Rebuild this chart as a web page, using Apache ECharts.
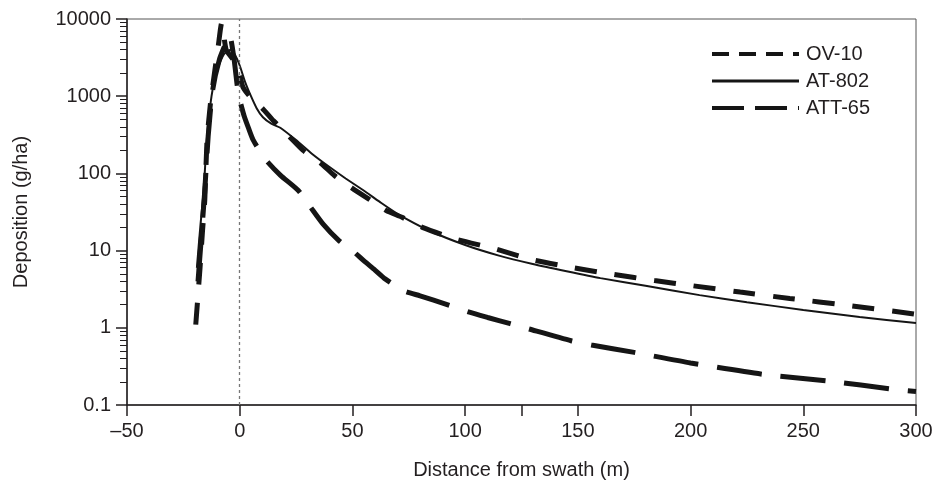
<!DOCTYPE html>
<html>
<head>
<meta charset="utf-8">
<script src="https://cdn.jsdelivr.net/npm/echarts@6/dist/echarts.min.js"></script>
<style>
  html, body { margin: 0; padding: 0; background: #fff; }
  #chart { width: 939px; height: 492px; }
</style>
</head>
<body>
<div id="chart"></div>
<script>
// Axis ticks and labels
const xTickValues = [-50, 0, 50, 100, 150, 200, 250, 300];
const xTickLabels = ['\u201350', '0', '50', '100', '150', '200', '250', '300'];
const xTickMarks = [-50, 0, 50, 100, 125, 150, 200, 250, 300];
const yTickValues = [0.1, 1, 10, 100, 1000, 10000];
const yTickLabels = ['0.1', '1', '10', '100', '1000', '10000'];
const seriesNames = ['OV-10', 'AT-802', 'ATT-65'];

// Deposition (g/ha) versus distance from swath (m)
const ov10Dist = [-19.5, -17.6, -16.5, -15.5, -14.5, -13, -11, -9.5, -8, -6, -3, 0, 1.5, 5, 10, 15, 22, 28, 36, 42, 50, 58, 65, 72, 81, 95, 113, 130, 148, 166, 184, 201, 222, 244, 270, 300];
const ov10Dep = [1.1, 6, 18, 45, 270, 800, 2200, 4500, 8900, 4000, 3000, 1900, 1300, 950, 700, 480, 300, 200, 135, 94, 64, 45, 33, 27, 20, 14.3, 10.6, 7.6, 6.0, 4.9, 4.1, 3.5, 2.9, 2.4, 1.95, 1.5];

const at802Dist = [-19, -17.5, -16, -14.5, -12.5, -10, -7, -4, -2, 0, 2.5, 5, 7.5, 10.3, 14, 18, 25, 32, 40, 47, 55, 62, 70, 84, 100, 115, 130, 145, 160, 180, 204, 225, 250, 275, 300];
const at802Dep = [6, 20, 60, 300, 1000, 2200, 3500, 4000, 3400, 2500, 1500, 1000, 700, 533, 440, 390, 270, 180, 120, 86, 60, 43, 30, 18.2, 11.8, 8.6, 6.7, 5.4, 4.4, 3.5, 2.65, 2.15, 1.7, 1.38, 1.15];

const att65Dist = [-18.5, -17, -15.5, -14, -12, -9, -6, -4.5, -2.5, -1, 0, 2, 4, 6, 11, 18, 26, 31, 37, 44, 50, 55, 60, 64.5, 73, 80, 92, 101, 110, 120, 128, 147, 156, 175, 200, 232, 261, 290, 300];
const att65Dep = [4, 15, 60, 300, 1200, 3000, 5000, 6200, 3000, 1300, 900, 550, 380, 270, 157, 95, 60, 38, 22, 13.5, 10, 7.4, 5.6, 4.3, 3.0, 2.6, 2.0, 1.62, 1.36, 1.13, 0.97, 0.68, 0.6, 0.48, 0.35, 0.25, 0.205, 0.16, 0.15];

// Minor ticks of the log axis (2..9 within each decade), in log10 units
const yMinorLogs = [];
for (let d = -1; d < 4; d++) {
  for (let m = 2; m <= 9; m++) yMinorLogs.push(d + Math.log10(m));
}

const ink = '#231f20';
const font = 'Liberation Sans, Arial, sans-serif';

function pairs(xs, ys) { return xs.map((x, i) => [x, ys[i]]); }

const chart = echarts.init(document.getElementById('chart'), null, { renderer: 'canvas' });

chart.setOption({
  animation: false,
  backgroundColor: '#fff',
  textStyle: { fontFamily: font, color: ink },
  grid: {
    left: 127, right: 23, top: 19, bottom: 87,
    show: true, borderColor: '#555', borderWidth: 1,
    containLabel: false, outerBoundsMode: 'none'
  },
  legend: {
    orient: 'vertical',
    left: 705, top: 39,
    itemWidth: 87, itemHeight: 14, itemGap: 7,
    selectedMode: false,
    textStyle: { fontSize: 20, color: ink, fontFamily: font, padding: [0, 0, 0, 2] },
    data: [
      { name: 'OV-10', itemStyle: { opacity: 0 }, lineStyle: { type: [17, 10], width: 4 } },
      { name: 'AT-802', itemStyle: { opacity: 0 }, lineStyle: { width: 3 } },
      { name: 'ATT-65', itemStyle: { opacity: 0 }, lineStyle: { type: [32, 11], width: 4 } }
    ]
  },
  xAxis: {
    type: 'value',
    min: -50, max: 300, interval: 50,
    name: 'Distance from swath (m)',
    nameLocation: 'middle', nameGap: 55,
    nameTextStyle: { fontSize: 20, color: ink, fontFamily: font },
    axisLine: { show: true, onZero: false, lineStyle: { color: ink, width: 1.5 } },
    axisTick: { show: true, length: 11, customValues: xTickMarks, lineStyle: { color: ink, width: 1.5 } },
    axisLabel: {
      fontSize: 20, color: ink, fontFamily: font, margin: 16,
      customValues: xTickValues,
      formatter: v => xTickLabels[xTickValues.indexOf(v)]
    },
    splitLine: { show: false }
  },
  yAxis: [
    {
      type: 'log', logBase: 10,
      min: 0.1, max: 10000,
      name: 'Deposition (g/ha)',
      nameLocation: 'middle', nameGap: 96,
      nameTextStyle: { fontSize: 20, color: ink, fontFamily: font },
      axisLine: { show: true, onZero: false, lineStyle: { color: ink, width: 1.5 } },
      axisTick: { show: true, length: 11, lineStyle: { color: ink, width: 1.5 } },
      axisLabel: {
        fontSize: 20, color: ink, fontFamily: font, margin: 16,
        formatter: v => {
          const i = yTickValues.findIndex(t => Math.abs(Math.log10(t) - Math.log10(v)) < 1e-6);
          return i >= 0 ? yTickLabels[i] : '';
        }
      },
      splitLine: { show: false }
    },
    {
      type: 'value', min: -1, max: 4,
      position: 'left',
      axisLine: { show: false, onZero: false },
      axisLabel: { show: false },
      splitLine: { show: false },
      axisTick: { show: true, length: 7, customValues: yMinorLogs, lineStyle: { color: ink, width: 1 } }
    }
  ],
  series: [
    {
      name: 'OV-10', type: 'line', yAxisIndex: 0,
      data: pairs(ov10Dist, ov10Dep),
      showSymbol: false, symbol: 'none', smooth: 0.2,
      lineStyle: { color: '#151515', width: 5, type: [22, 18], cap: 'butt' },
      itemStyle: { color: '#151515' },
      markLine: {
        silent: true, symbol: ['none', 'none'],
        label: { show: false },
        lineStyle: { color: '#777', width: 1.3, type: [3, 3] },
        data: [{ xAxis: 0 }]
      },
      z: 3
    },
    {
      name: 'AT-802', type: 'line', yAxisIndex: 0,
      data: pairs(at802Dist, at802Dep),
      showSymbol: false, symbol: 'none', smooth: 0.2,
      lineStyle: { color: '#151515', width: 2 },
      itemStyle: { color: '#151515' },
      z: 4
    },
    {
      name: 'ATT-65', type: 'line', yAxisIndex: 0,
      data: pairs(att65Dist, att65Dep),
      showSymbol: false, symbol: 'none', smooth: 0.2,
      lineStyle: { color: '#151515', width: 5, type: [45, 19], cap: 'butt' },
      itemStyle: { color: '#151515' },
      z: 3
    }
  ]
});
</script>
</body>
</html>
